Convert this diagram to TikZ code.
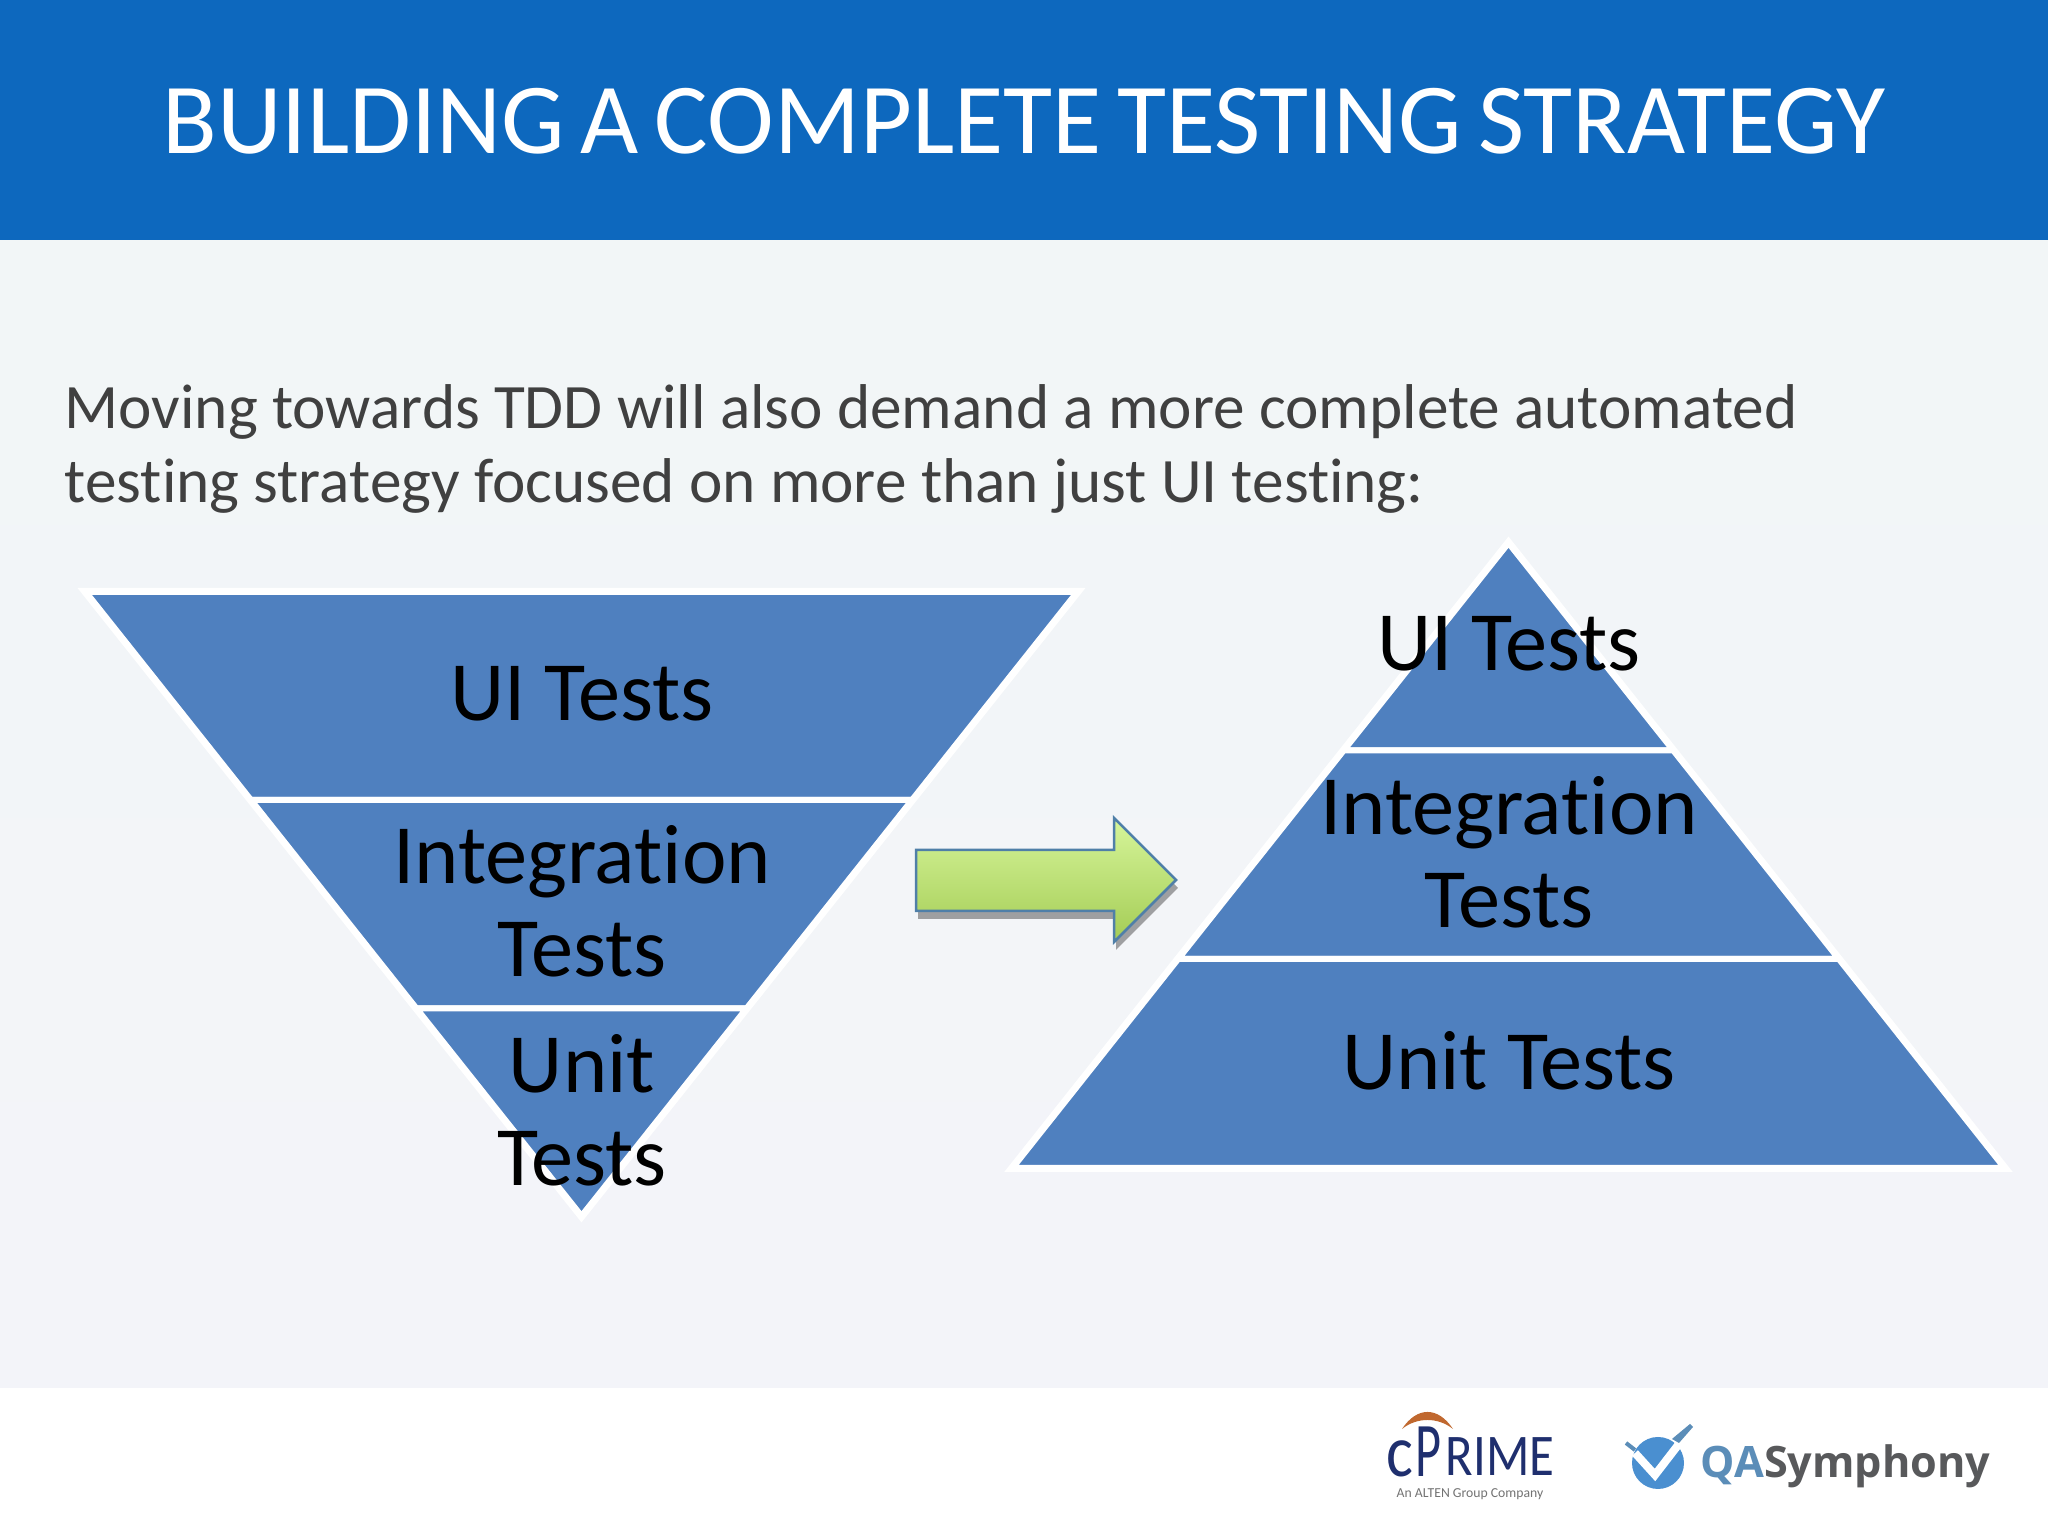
\documentclass[tikz,border=0pt]{standalone}
\usepackage{fontspec}
\setmainfont[Ligatures=NoCommon]{Carlito}
\newfontfamily\titlefont[WordSpace=.7]{Carlito}
\newfontfamily\symphonyfont{Open Sans}
\newfontfamily\primefont[FakeStretch=.86]{Carlito}
\newfontfamily\primepfont[FakeStretch=.65]{Carlito}
\usetikzlibrary{positioning,shadows}
\definecolor{headblue}{HTML}{0D68BE}
\definecolor{bandblue}{HTML}{4F80BF}
\definecolor{pagetop}{HTML}{F2F6F7}
\definecolor{pagebottom}{HTML}{F3F4F9}
\definecolor{arrowtop}{HTML}{D6F59A}
\definecolor{arrowbottom}{HTML}{A4CC55}
\definecolor{arrowline}{HTML}{4F7FA8}
\definecolor{logonavy}{HTML}{1F2F6E}
\definecolor{logoorange}{HTML}{C0682F}
\definecolor{logosky}{HTML}{4A8FD0}
\definecolor{logosteel}{HTML}{5B8DB8}
\definecolor{logogrey}{HTML}{58595B}
\tikzset{
  band/.style={fill=bandblue,draw=white,line width=.06cm},
  bandedge/.style={draw=white,line width=.08cm},
  tierlabel/.style={font=\fontsize{24}{26.4}\selectfont,align=center,text=black,inner sep=0pt},
  bluearrow/.style={draw=arrowline,line width=.025cm,top color=arrowtop,bottom color=arrowbottom,
    drop shadow={shadow xshift=.02cm,shadow yshift=-.08cm,opacity=.35,fill=black}},
  primeletter/.style={anchor=base west,text=logonavy,inner sep=0pt},
}
\begin{document}
\begin{tikzpicture}
\useasboundingbox (0,0) rectangle (20.48,15.36);
\fill[white] (0,0) rectangle (20.48,15.36);
\shade[top color=pagetop,bottom color=pagebottom] (0,1.48) rectangle (20.48,13);
\fill[headblue] (0,12.96) rectangle (20.48,15.36);
\node (title) at (10.24,13.82) [anchor=base,text=white,inner sep=0pt,font=\titlefont\fontsize{28.6}{32}\selectfont] {BUILDING A COMPLETE TESTING STRATEGY};
\node (intro) at (.64,10.33) [anchor=base west,text=black!75,inner sep=0pt,align=left,font=\fontsize{18}{21.3}\selectfont] {Moving towards TDD will also demand a more complete automated\\testing strategy focused on more than just UI testing:};
% funnel on the left
\draw[bandedge] (.858,9.44) -- (10.772,9.44) -- (5.815,3.2) -- cycle;
\draw[band] (.858,9.44) -- (10.772,9.44) -- (9.12,7.36) -- (2.51,7.36) -- cycle;
\draw[band] (2.51,7.36) -- (9.12,7.36) -- (7.465,5.275) -- (4.165,5.275) -- cycle;
\draw[band] (4.165,5.275) -- (7.465,5.275) -- (5.815,3.2) -- cycle;
\node (uileft) at (5.82,8.42) [tierlabel] {UI Tests};
\node (intleft) at (5.82,6.35) [tierlabel] {Integration\\Tests};
\node (unitleft) at (5.82,4.26) [tierlabel] {Unit\\Tests};
% pyramid on the right
\draw[bandedge] (15.085,9.93) -- (20.045,3.68) -- (10.125,3.68) -- cycle;
\draw[band] (15.085,9.93) -- (16.733,7.855) -- (13.437,7.855) -- cycle;
\draw[band] (13.437,7.855) -- (16.733,7.855) -- (18.388,5.77) -- (11.782,5.77) -- cycle;
\draw[band] (11.782,5.77) -- (18.388,5.77) -- (20.045,3.68) -- (10.125,3.68) -- cycle;
\node (uiright) at (15.09,8.92) [tierlabel] {UI Tests};
\node (intright) at (15.09,6.84) [tierlabel] {Integration\\Tests};
\node (unitright) at (15.09,4.75) [tierlabel] {Unit Tests};
% arrow between them
\draw[bluearrow] (9.16,6.86) -- (11.14,6.86) -- (11.14,7.18) -- (11.76,6.56) -- (11.14,5.94) -- (11.14,6.25) -- (9.16,6.25) -- cycle;
% cprime logo
\fill[logoorange] (14.02,1.07) .. controls (14.17,1.297) and (14.38,1.297) .. (14.53,1.07) .. controls (14.38,1.19) and (14.17,1.19) .. (14.02,1.07) -- cycle;
\node (primec) at (13.86,.59) [primeletter,font=\primefont\fontsize{21}{21}\selectfont] {c};
\node (primep) at (14.15,.59) [primeletter,font=\primepfont\fontsize{22}{22}\selectfont] {P};
\node (primerest) at (14.45,.6) [primeletter,font=\primefont\fontsize{16.8}{17}\selectfont] {RIME};
\node (alten) at (14.7,.38) [anchor=base,text=black!55,inner sep=0pt,font=\fontsize{3.9}{4}\selectfont] {An ALTEN Group Company};
% qasymphony logo
\fill[logosky] (16.58,.73) circle (.26);
\draw[white,line width=.08cm] (16.35,.83) -- (16.55,.61) -- (16.82,.96);
\fill[logosteel] (16.72,.97) -- (16.9,1.12) -- (16.93,1.09) -- (16.79,.93) -- cycle;
\draw[logosteel,line width=.04cm] (16.26,.93) -- (16.35,.86);
\node (symphony) at (17,.58) [anchor=base west,inner sep=0pt,font=\symphonyfont\bfseries\fontsize{12.3}{13}\selectfont] {\textcolor{logosteel}{QA}\textcolor{logogrey}{Symphony}};
\end{tikzpicture}
\end{document}
